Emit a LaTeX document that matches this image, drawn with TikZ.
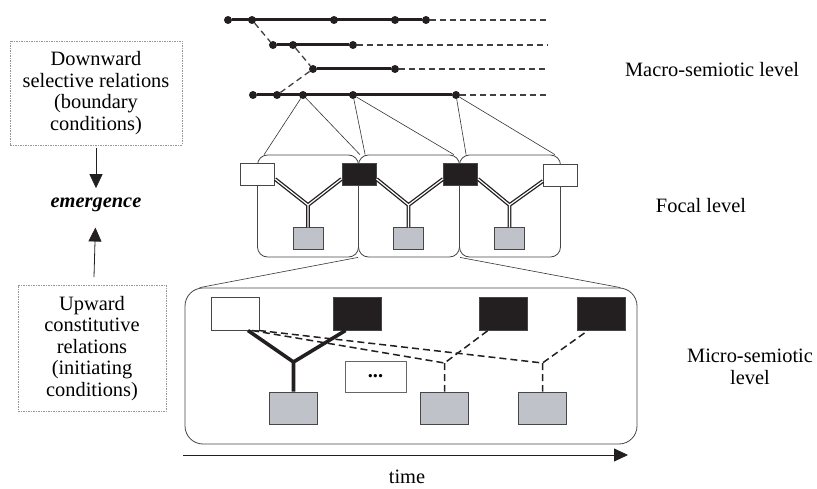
\documentclass[tikz,border=0pt]{standalone}
\usepackage{fontspec}
\setmainfont{Liberation Serif}
\usepackage{tikz}
\usetikzlibrary{arrows.meta, positioning, calc}
\definecolor{inkcolor}{RGB}{35,31,32}
\definecolor{graycolor}{RGB}{191,195,201}
\definecolor{boxborder}{RGB}{70,70,70}
\definecolor{dashborder}{RGB}{150,150,150}
\tikzset{
    lbl/.style={font=\fontsize{20.4}{21.5}\selectfont, align=center, inner sep=0pt},
    relbox/.style={rectangle, draw=dashborder, dash pattern=on 1.5pt off 1pt, line width=0.6pt, lbl},
    dot/.style={circle, fill=inkcolor, inner sep=0pt, minimum size=8pt},
    tline/.style={line width=3pt, inkcolor},
    tdash/.style={line width=1.3pt, black!75, dash pattern=on 6pt off 4pt},
    linkline/.style={line width=0.6pt, black!80},
    levelbox/.style={rectangle, draw=boxborder, rounded corners=10pt, line width=0.8pt},
    whtbox/.style={rectangle, draw=boxborder, fill=white, line width=1pt, inner sep=0pt},
    blkbox/.style={whtbox, fill=inkcolor},
    gryBox/.style={whtbox, fill=graycolor},
    fsize/.style={minimum width=34pt, minimum height=22pt},
    msize/.style={minimum width=48pt, minimum height=32pt},
    dblline/.style={line width=1.2pt, white, preaction={draw, line width=3.8pt, inkcolor}},
    mlink/.style={line width=3.6pt, inkcolor},
    mdash/.style={line width=1.5pt, inkcolor, dash pattern=on 7pt off 4pt},
    arr/.style={-{Triangle[length=14pt, width=13pt]}, line width=0.8pt, inkcolor}
}

\begin{document}
\begin{tikzpicture}[x=1pt, y=-1pt]
    \useasboundingbox (0,0) rectangle (817,489);

    % macro-semiotic level
    \foreach \n/\x in {1/228, 2/252, 3/334, 4/395, 5/426} \node[dot] (a\n) at (\x,20) {};
    \foreach \n/\x in {1/273, 2/293, 3/353} \node[dot] (b\n) at (\x,45) {};
    \foreach \n/\x in {1/313, 2/395} \node[dot] (c\n) at (\x,69) {};
    \foreach \n/\x in {1/253, 2/277, 3/303, 4/353, 5/456} \node[dot] (d\n) at (\x,95) {};
    \coordinate (ea) at (548,20);
    \coordinate (eb) at (548,45);
    \coordinate (ec) at (548,69);
    \coordinate (ed) at (548,95);

    \draw[tline] (a1) -- (a5);
    \draw[tline] (b1) -- (b3);
    \draw[tline] (c1) -- (c2);
    \draw[tline] (d1) -- (d5);
    \draw[tdash] (a5) -- (ea);
    \draw[tdash] (b3) -- (eb);
    \draw[tdash] (c2) -- (ec);
    \draw[tdash] (d5) -- (ed);
    \draw[tdash] (a2) -- (b1);
    \draw[tdash] (b2) -- (c1);
    \draw[tdash] (c1) -- (d2);

    % focal level
    \node[levelbox, minimum width=101pt, minimum height=102pt] (f1) at (308,206) {};
    \node[levelbox, minimum width=101pt, minimum height=102pt] (f2) at (409,206) {};
    \node[levelbox, minimum width=101pt, minimum height=102pt] (f3) at (510,206) {};

    \draw[linkline] (d3) -- ([xshift=7pt]f1.north west);
    \draw[linkline] (d3) -- ([xshift=1pt]f1.north east);
    \draw[linkline] (d4) -- ([xshift=7pt]f2.north west);
    \draw[linkline] (d4) -- ([xshift=-6pt]f2.north east);
    \draw[linkline] (d5) -- ([xshift=7pt]f3.north west);
    \draw[linkline] (d5) -- ([xshift=-6pt]f3.north east);

    \node[whtbox, fsize] (wf1) at (257.5,175) {};
    \node[blkbox, fsize] (bf1) at (359,175) {};
    \node[blkbox, fsize] (bf2) at (460.5,175) {};
    \node[whtbox, fsize] (wf2) at (560.5,176) {};
    \node[gryBox, minimum width=30pt, minimum height=22pt] (gf1) at (308,239) {};
    \node[gryBox, minimum width=30pt, minimum height=22pt] (gf2) at (408.5,239) {};
    \node[gryBox, minimum width=30pt, minimum height=22pt] (gf3) at (509.5,239) {};
    \coordinate (j1) at (308,205);
    \coordinate (j2) at (408.5,205);
    \coordinate (j3) at (509.5,205);

    \draw[dblline] ([yshift=-4pt]wf1.east) -- (j1) -- ([yshift=-4pt]bf1.west) (j1) -- (gf1);
    \draw[dblline] ([yshift=-4pt]bf1.east) -- (j2) -- ([yshift=-4pt]bf2.west) (j2) -- (gf2);
    \draw[dblline] ([yshift=-4pt]bf2.east) -- (j3) -- ([yshift=-5pt]wf2.west) (j3) -- (gf3);

    % micro-semiotic level
    \node[levelbox, rounded corners=18pt, minimum width=452pt, minimum height=156pt] (micro) at (411,366) {};
    \draw[linkline] (f2.south west) -- ([xshift=15pt]micro.north west);
    \draw[linkline] (f2.south east) -- ([xshift=-17pt]micro.north east);

    \node[whtbox, msize] (wm) at (235,314) {};
    \node[blkbox, msize] (bm1) at (357.5,314) {};
    \node[blkbox, msize] (bm2) at (503,314) {};
    \node[blkbox, msize] (bm3) at (601.5,314) {};
    \node[gryBox, msize] (gm1) at (293.5,408) {};
    \node[gryBox, msize] (gm2) at (444.5,408) {};
    \node[gryBox, msize] (gm3) at (542.5,408) {};
    \node[whtbox, draw=black!60, line width=0.6pt, minimum width=61pt, minimum height=31pt, font=\fontsize{20.4}{21.5}\selectfont\bfseries] (more) at (375.5,376.5) {...};
    \coordinate (jm1) at (293.5,362);
    \coordinate (jm2) at (444.5,363);
    \coordinate (jm3) at (542.5,363);

    \draw[mlink] ([xshift=13pt]wm.south) -- (jm1) -- ([xshift=-12pt]bm1.south) (jm1) -- (gm1);
    \draw[mdash] ([xshift=17pt]wm.south) -- (jm2) -- ([xshift=-15pt]bm2.south) (jm2) -- (gm2);
    \draw[mdash] ([xshift=24pt]wm.south) -- (jm3) -- ([xshift=-13.5pt]bm3.south) (jm3) -- (gm3);

    % relations and emergence
    \node[relbox, minimum width=172pt, minimum height=104pt] (down) at (96,93) {Downward\\selective relations\\(boundary\\conditions)};
    \node[relbox, minimum width=148pt, minimum height=126pt] (up) at (92,348.5) {Upward\\constitutive\\relations\\(initiating\\conditions)};
    \node[lbl, anchor=base, font=\fontsize{20.4}{21.5}\selectfont\bfseries\itshape] (emerg) at (96,208) {emergence};
    \draw[arr, shorten <=3pt, shorten >=10pt] (down) -- (emerg);
    \draw[arr, shorten <=8pt, shorten >=15pt] (up) -- (emerg);

    % time axis and level names
    \coordinate (t0) at (183,455);
    \coordinate (t1) at (628,455);
    \draw[arr] (t0) -- (t1);
    \node[lbl] (time) at (407,477) {time};
    \node[lbl] (macrolbl) at (712,70) {Macro-semiotic level};
    \node[lbl] (focallbl) at (701,206) {Focal level};
    \node[lbl] (microlbl) at (750,367) {Micro-semiotic\\level};

\end{tikzpicture}
\end{document}
